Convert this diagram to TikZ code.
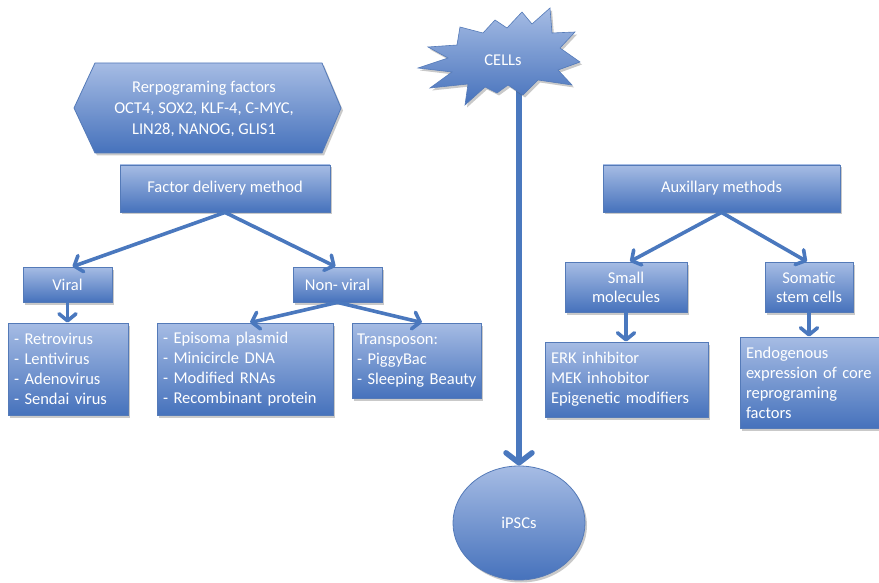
\documentclass[tikz,border=0pt]{standalone}
\usepackage{fontspec}
\setmainfont{Carlito}
\usetikzlibrary{arrows.meta,shadows,shapes.geometric}

\definecolor{boxtop}{RGB}{166,188,228}
\definecolor{boxbot}{RGB}{70,114,188}
\definecolor{boxline}{RGB}{84,122,184}
\definecolor{arrowblue}{RGB}{74,120,190}

% one unbreakable line of a list
\newcommand{\oneline}[1]{\mbox{#1}}

\tikzset{
  x=1pt, y=-1pt,
  softshadow/.style={drop shadow={shadow xshift=2pt, shadow yshift=-2.5pt, opacity=0.3, fill=black!70}},
  panel/.style={draw=boxline, line width=0.8pt, top color=boxtop, bottom color=boxbot,
    text=white, inner sep=0pt, align=center, softshadow,
    font=\fontsize{16.5}{19}\selectfont},
  listbox/.style={panel, align=left, inner xsep=6pt, inner ysep=0pt,
    font=\fontsize{16.5}{20}\selectfont},
  whitetext/.style={text=white, inner sep=0pt, align=center, font=\fontsize{16.5}{21}\selectfont},
  link/.style={draw=arrowblue, line width=3.6pt, line cap=round, line join=round,
    -{Straight Barb[length=7pt, width=17pt, line cap=round, line join=round]}},
  trunk/.style={link, line width=5.5pt,
    -{Straight Barb[length=10pt, width=26pt, line cap=round, line join=round]}}
}

\begin{document}
\begin{tikzpicture}
\useasboundingbox (0,0) rectangle (879,583);

% central pathway: cells to iPSCs (drawn first so the burst covers its start)
\coordinate (cellsfoot) at (519,80);
\node[panel, ellipse, minimum width=132pt, minimum height=114pt] (ipsc) at (519,523) {};
\node[whitetext] at (ipsc.center) {iPSCs};
\draw[trunk] (cellsfoot) -- (ipsc.north);

% the starburst
\path[draw=boxline, line width=0.6pt, top color=boxtop, bottom color=boxbot, softshadow]
  (428,47) -- (457,45) -- (460,27) -- (483,33) -- (495,20) -- (507,28) -- (522,12)
  -- (532,24) -- (550,8) -- (552,33) -- (575,32) -- (560,48) -- (580,62) -- (558,70)
  -- (572,85) -- (538,80) -- (523,95) -- (508,85) -- (497,93) -- (485,87) -- (465,105)
  -- (468,84) -- (430,88) -- (452,72) -- (418,68) -- (448,58) -- cycle;
\node[whitetext] (cells) at (503,60) {CELLs};

% reprogramming factors hexagon
\path[draw=boxline, line width=0.8pt, top color=boxtop, bottom color=boxbot, softshadow]
  (74,108) -- (95,63) -- (322,63) -- (341,108) -- (322,153) -- (95,153) -- cycle;
\node[whitetext] (factors) at (204,109) {Rerpograming factors\\OCT4, SOX2, KLF-4, C-MYC,\\LIN28, NANOG, GLIS1};

% factor delivery branch
\node[panel, minimum width=210pt, minimum height=47pt] (fdm) at (225,188.5) {Factor delivery method};
\node[panel, minimum width=89pt, minimum height=35pt] (viral) at (67.5,284.5) {Viral};
\node[panel, minimum width=89pt, minimum height=35pt] (nonviral) at (337.5,284.5) {Non- viral};
\node[listbox, text width=108pt, minimum height=92pt] (vlist) at (68,369)
  {\oneline{- Retrovirus}\\\oneline{- Lentivirus}\\\oneline{- Adenovirus}\\\oneline{- Sendai virus}};
\node[listbox, text width=164pt, minimum height=92pt] (nvlist) at (245,369)
  {\oneline{- Episoma plasmid}\\\oneline{- Minicircle DNA}\\\oneline{- Modified RNAs}\\\oneline{- Recombinant protein}};
\node[listbox, inner xsep=5pt, text width=119pt, minimum height=75pt] (transp) at (416.5,360.5)
  {\oneline{Transposon:}\\\oneline{- PiggyBac}\\\oneline{- Sleeping Beauty}};

% auxiliary branch
\node[panel, minimum width=237pt, minimum height=47pt] (aux) at (721.5,188.5) {Auxillary methods};
\node[panel, minimum width=122pt, minimum height=50pt] (small) at (626,287) {Small\\molecules};
\node[panel, minimum width=88pt, minimum height=50pt] (somatic) at (809,287) {Somatic\\stem cells};
\node[listbox, text width=151pt, minimum height=75pt] (erk) at (626.5,379.5)
  {\oneline{ERK inhibitor}\\\oneline{MEK inhobitor}\\\oneline{Epigenetic modifiers}};
\node[listbox, text width=130pt, minimum height=91pt] (endo) at (811,382.5)
  {\oneline{Endogenous}\\\oneline{expression of core}\\\oneline{reprograming}\\\oneline{factors}};

% connectors
\draw[link] (fdm.south) -- ([xshift=5pt]viral.north);
\draw[link] (fdm.south) -- ([xshift=-2pt]nonviral.north);
\draw[link] (viral.south) -- (vlist.north -| viral.south);
\draw[link] (nonviral.south) -- ([xshift=5pt]nvlist.north);
\draw[link] (nonviral.south) -- ([xshift=5.5pt]transp.north);
\draw[link] (aux.south) -- ([xshift=4pt]small.north);
\draw[link] (aux.south) -- ([xshift=-2pt]somatic.north);
\draw[link] (small.south) -- (erk.north -| small.south);
\draw[link] (somatic.south) -- (endo.north -| somatic.south);
\end{tikzpicture}
\end{document}
